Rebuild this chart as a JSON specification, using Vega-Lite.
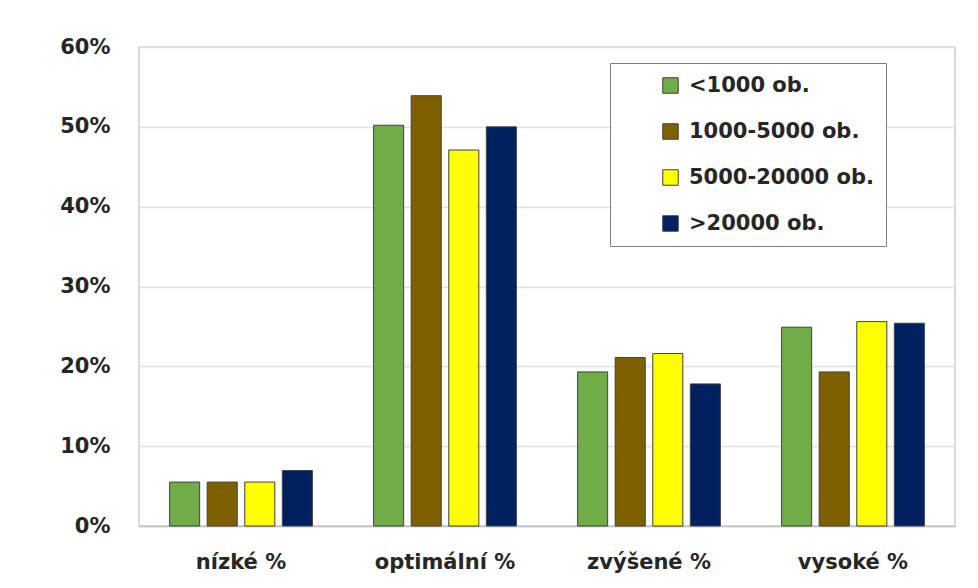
{
  "$schema": "https://vega.github.io/schema/vega-lite/v6.json",
  "width": 816,
  "height": 479,
  "autosize": {"type": "none"},
  "padding": {"left": 139, "top": 47, "right": 23, "bottom": 62},
  "background": "white",
  "data": {
    "values": [
      {"kat": "nízké %", "skupina": "<1000 ob.", "hodnota": 0.055},
      {"kat": "nízké %", "skupina": "1000-5000 ob.", "hodnota": 0.055},
      {"kat": "nízké %", "skupina": "5000-20000 ob.", "hodnota": 0.055},
      {"kat": "nízké %", "skupina": ">20000 ob.", "hodnota": 0.0695},
      {"kat": "optimální %", "skupina": "<1000 ob.", "hodnota": 0.502},
      {"kat": "optimální %", "skupina": "1000-5000 ob.", "hodnota": 0.539},
      {"kat": "optimální %", "skupina": "5000-20000 ob.", "hodnota": 0.471},
      {"kat": "optimální %", "skupina": ">20000 ob.", "hodnota": 0.5},
      {"kat": "zvýšené %", "skupina": "<1000 ob.", "hodnota": 0.193},
      {"kat": "zvýšené %", "skupina": "1000-5000 ob.", "hodnota": 0.211},
      {"kat": "zvýšené %", "skupina": "5000-20000 ob.", "hodnota": 0.216},
      {"kat": "zvýšené %", "skupina": ">20000 ob.", "hodnota": 0.178},
      {"kat": "vysoké %", "skupina": "<1000 ob.", "hodnota": 0.249},
      {"kat": "vysoké %", "skupina": "1000-5000 ob.", "hodnota": 0.193},
      {"kat": "vysoké %", "skupina": "5000-20000 ob.", "hodnota": 0.256},
      {"kat": "vysoké %", "skupina": ">20000 ob.", "hodnota": 0.254}
    ]
  },
  "mark": {"type": "bar", "stroke": "#404040", "strokeWidth": 1},
  "encoding": {
    "x": {
      "field": "kat",
      "type": "nominal",
      "sort": ["nízké %", "optimální %", "zvýšené %", "vysoké %"],
      "scale": {"paddingInner": 0.3, "paddingOuter": 0.15},
      "axis": {
        "title": null,
        "labelAngle": 0,
        "labelFont": "DejaVu Sans",
        "labelFontWeight": "bold",
        "labelFontSize": 21,
        "labelColor": "#262626",
        "labelPadding": 25,
        "ticks": false,
        "domainColor": "#bfbfbf",
        "domainWidth": 1.5
      }
    },
    "xOffset": {
      "field": "skupina",
      "type": "nominal",
      "sort": ["<1000 ob.", "1000-5000 ob.", "5000-20000 ob.", ">20000 ob."],
      "scale": {"paddingInner": 0.2, "paddingOuter": 0}
    },
    "y": {
      "field": "hodnota",
      "type": "quantitative",
      "scale": {"domain": [0, 0.6], "nice": false},
      "axis": {
        "title": null,
        "format": ".0%",
        "values": [0, 0.1, 0.2, 0.3, 0.4, 0.5, 0.6],
        "labelFont": "DejaVu Sans",
        "labelFontWeight": "bold",
        "labelFontSize": 21,
        "labelColor": "#262626",
        "labelPadding": 29,
        "ticks": false,
        "domain": false,
        "gridColor": "#e0e0e0",
        "gridWidth": 1.5
      }
    },
    "color": {
      "field": "skupina",
      "type": "nominal",
      "sort": ["<1000 ob.", "1000-5000 ob.", "5000-20000 ob.", ">20000 ob."],
      "scale": {
        "domain": ["<1000 ob.", "1000-5000 ob.", "5000-20000 ob.", ">20000 ob."],
        "range": ["#70AD47", "#7F6000", "#FFFF00", "#002060"]
      },
      "legend": {
        "title": null,
        "orient": "none",
        "legendX": 471,
        "legendY": 16,
        "padding": 12,
        "symbolOffset": 38,
        "strokeColor": "#7f7f7f",
        "fillColor": "white",
        "symbolType": "square",
        "symbolSize": 240,
        "symbolStrokeColor": "#404040",
        "symbolStrokeWidth": 1,
        "labelFont": "DejaVu Sans",
        "labelFontWeight": "bold",
        "labelFontSize": 21,
        "labelLimit": 400,
        "labelColor": "#262626",
        "labelOffset": 8,
        "rowPadding": 24,
        "encode": {"legend": {"update": {"width": {"value": 305}}}}
      }
    }
  },
  "config": {
    "view": {"stroke": "#d0d0d0", "strokeWidth": 1.5}
  }
}
